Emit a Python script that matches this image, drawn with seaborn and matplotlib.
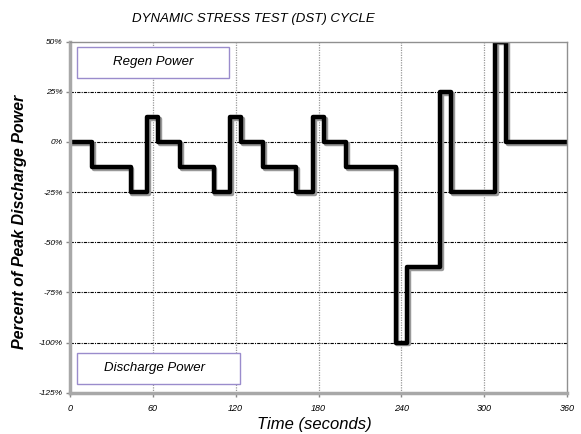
import matplotlib
matplotlib.use("Agg")
import matplotlib.pyplot as plt
import matplotlib.patheffects as pe
import seaborn as sns
import pandas as pd

# DST cycle step profile (time at start of each step, power level in % of peak discharge)
time_s = [0, 16, 44, 56, 64, 80, 104, 116, 124, 140, 164, 176, 184, 200, 236, 244, 268, 276, 308, 316, 360]
power_pct = [0, -12.5, -25, 12.5, 0, -12.5, -25, 12.5, 0, -12.5, -25, 12.5, 0, -12.5, -100, -62.5, 25, -25, 50, 0, 0]
x_ticks = [0, 60, 120, 180, 240, 300, 360]
y_ticks = [50, 25, 0, -25, -50, -75, -100, -125]
y_tick_labels = ["50%", "25%", "0%", "-25%", "-50%", "-75%", "-100%", "-125%"]

df = pd.DataFrame({"time": time_s, "power": power_pct})

sns.set_theme(style="white")
plt.rcParams["font.family"] = ["Liberation Sans", "DejaVu Sans"]
plt.rcParams["text.color"] = "black"
plt.rcParams["xtick.color"] = "black"
plt.rcParams["ytick.color"] = "black"

fig = plt.figure(figsize=(5.81, 4.34), dpi=100)
ax = fig.add_axes([70/581, 1-392.7/434, (567-70)/581, (392.7-41.7)/434])

sns.lineplot(data=df, x="time", y="power", drawstyle="steps-post", color="black",
             linewidth=3.2, ax=ax,
             path_effects=[pe.SimpleLineShadow(offset=(1.2, -1.2), shadow_color="#999999", alpha=1),
                           pe.Normal()])

ax.set_xlim(0, 360)
ax.set_ylim(-125, 50)
ax.set_xticks(x_ticks)
ax.set_xticklabels([str(t) for t in x_ticks], fontsize=6.5, style="italic", color="black")
ax.set_yticks(y_ticks)
ax.set_yticklabels(y_tick_labels, fontsize=6, style="italic", color="black")
ax.tick_params(axis="both", length=3, width=1, color="#888888", pad=2, direction="out")
ax.tick_params(axis="x", pad=5)
ax.tick_params(bottom=True, left=True)

for y in y_ticks[1:-1]:
    ax.axhline(y, color="black", linestyle=(0, (3, 1, 1, 1)), linewidth=0.8, zorder=0)
for x in x_ticks[1:-1]:
    ax.axvline(x, color="#999999", linestyle=(0, (1, 1)), linewidth=0.9, zorder=0)

for side in ["left", "bottom"]:
    ax.spines[side].set_color("#a8a8a8")
    ax.spines[side].set_linewidth(2.5)
for side in ["top", "right"]:
    ax.spines[side].set_color("#909090")
    ax.spines[side].set_linewidth(1)

ax.set_xlabel("")
ax.set_ylabel("")

# annotation boxes
ax.add_patch(plt.Rectangle((76.7/581, 1-78.3/434), (229.3-76.7)/581, (78.3-46.7)/434,
                           transform=fig.transFigure, facecolor="white", edgecolor="#9a8ccc",
                           linewidth=1, zorder=3, clip_on=False))
fig.text(153/581, 1-62.5/434, "Regen Power", ha="center", va="center", fontsize=9.5,
         style="italic", color="black", zorder=4)
ax.add_patch(plt.Rectangle((76.7/581, 1-384.3/434), (240.3-76.7)/581, (384.3-352.7)/434,
                           transform=fig.transFigure, facecolor="white", edgecolor="#9a8ccc",
                           linewidth=1, zorder=3, clip_on=False))
fig.text(155/581, 1-368.5/434, "Discharge Power", ha="center", va="center", fontsize=9.5,
         style="italic", color="black", zorder=4)

fig.text(253/581, 1-19/434, "DYNAMIC STRESS TEST (DST) CYCLE", ha="center", va="center",
         fontsize=9.5, style="italic", color="black")
fig.text(314/581, 1-424/434, "Time (seconds)", ha="center", va="center",
         fontsize=12, style="italic", color="black")
fig.text(20/581, 1-222/434, "Percent of Peak Discharge Power", ha="center", va="center",
         fontsize=11.5, style="italic", fontweight="bold", rotation=90, color="black")

fig.savefig("out.png", dpi=100)
